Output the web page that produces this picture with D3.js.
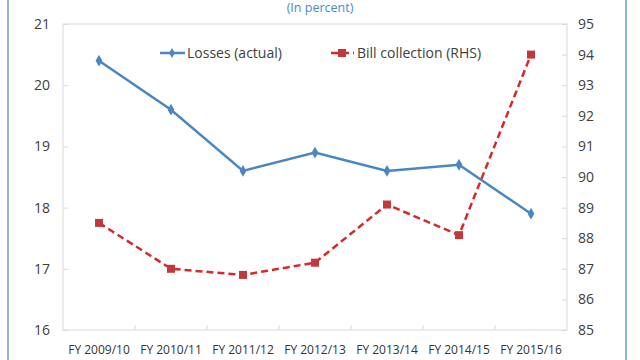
<!DOCTYPE html>
<html><head><meta charset="utf-8">
<script src="https://cdn.jsdelivr.net/npm/d3@7/dist/d3.min.js"></script>
<style>html,body{margin:0;padding:0;background:#fff;}svg{display:block;}</style>
</head><body><svg id="c" width="640" height="360"></svg>
<script>
const categories = ["FY 2009/10","FY 2010/11","FY 2011/12","FY 2012/13","FY 2013/14","FY 2014/15","FY 2015/16"];
const losses = [20.4, 19.6, 18.6, 18.9, 18.6, 18.7, 17.9];
const billCollection = [88.5, 87.0, 86.8, 87.2, 89.1, 88.1, 94.0];
const leftTicks = [16,17,18,19,20,21];
const rightTicks = [85,86,87,88,89,90,91,92,93,94,95];
const title = "(In percent)";
const seriesNames = ["Losses (actual)", "Bill collection (RHS)"];

const svg = d3.select("#c");
const m = {l:63, r:567, t:24, b:330};
const font = "'Open Sans', 'Noto Sans', sans-serif";

// outer blue side borders
svg.append("line").attr("x1",8).attr("x2",8).attr("y1",0).attr("y2",360).attr("stroke","#8fb4e3").attr("stroke-width",2);
svg.append("line").attr("x1",626).attr("x2",626).attr("y1",0).attr("y2",360).attr("stroke","#8fb4e3").attr("stroke-width",2);

svg.append("text").attr("x",320).attr("y",12).attr("text-anchor","middle")
  .attr("font-family",font).attr("font-size",12.5).attr("fill","#4a8cc8").text(title);

const x = d3.scaleBand().domain(categories).range([m.l, m.r]);
const yL = d3.scaleLinear().domain([16,21]).range([m.b, m.t]);
const yR = d3.scaleLinear().domain([85,95]).range([m.b, m.t]);

// plot frame
svg.append("rect").attr("x",m.l).attr("y",m.t).attr("width",m.r-m.l).attr("height",m.b-m.t)
  .attr("fill","none").attr("stroke","#d9d9d9").attr("stroke-width",1);

// left axis
const gL = svg.append("g").attr("transform",`translate(${m.l},0)`)
  .call(d3.axisLeft(yL).tickValues(leftTicks).tickFormat(d3.format("d")).tickSize(-5).tickPadding(21));
// right axis
const gR = svg.append("g").attr("transform",`translate(${m.r},0)`)
  .call(d3.axisRight(yR).tickValues(rightTicks).tickFormat(d3.format("d")).tickSize(-5).tickPadding(19));
// bottom axis: ticks at category boundaries
const bounds = categories.slice(1).map(c => x(c));
const gB = svg.append("g").attr("transform",`translate(0,${m.b})`)
  .call(d3.axisBottom(x).tickSize(0).tickPadding(15));
gB.selectAll(".bt").data(bounds).enter().append("line").attr("class","bt")
  .attr("x1",d=>d).attr("x2",d=>d).attr("y1",0).attr("y2",-5).attr("stroke","#d9d9d9");

[gL,gR,gB].forEach(g=>{
  g.select(".domain").remove();
  g.selectAll(".tick line").attr("stroke","#d9d9d9");
  g.selectAll("text").attr("font-family",font).attr("fill","#404040");
});
gL.selectAll("text").attr("font-size",14).attr("text-anchor","middle");
gR.selectAll("text").attr("font-size",14).attr("text-anchor","middle");
gB.selectAll("text").attr("font-size",12).attr("fill","#333");

const cx = d => x(d) + x.bandwidth()/2;
const blue = "#4a86c2", red = "#d42a2a", redFill = "#c0393b";

// losses line
svg.append("path").datum(losses)
  .attr("d", d3.line().x((d,i)=>cx(categories[i])).y(d=>yL(d)))
  .attr("fill","none").attr("stroke",blue).attr("stroke-width",2.5);
svg.selectAll(".dia").data(losses).enter().append("path")
  .attr("transform",(d,i)=>`translate(${cx(categories[i])},${yL(d)})`)
  .attr("d", d3.symbol().type(d3.symbolDiamond).size(40))
  .attr("fill",blue);

// bill collection line
svg.append("path").datum(billCollection)
  .attr("d", d3.line().x((d,i)=>cx(categories[i])).y(d=>yR(d)))
  .attr("fill","none").attr("stroke",red).attr("stroke-width",2.5).attr("stroke-dasharray","7,4");
svg.selectAll(".sq").data(billCollection).enter().append("rect")
  .attr("x",(d,i)=>cx(categories[i])-4).attr("y",d=>yR(d)-4)
  .attr("width",8).attr("height",8).attr("fill",redFill);

// legend
const lg = svg.append("g");
lg.append("line").attr("x1",160).attr("x2",185).attr("y1",53).attr("y2",53).attr("stroke",blue).attr("stroke-width",2.5);
lg.append("path").attr("transform","translate(172,53)").attr("d",d3.symbol().type(d3.symbolDiamond).size(30)).attr("fill",blue);
lg.append("text").attr("x",187).attr("y",58).attr("font-family",font).attr("font-size",14).attr("fill","#404040").text(seriesNames[0]);
lg.append("line").attr("x1",331).attr("x2",354).attr("y1",53).attr("y2",53).attr("stroke",red).attr("stroke-width",2.5).attr("stroke-dasharray","7,4");
lg.append("rect").attr("x",338).attr("y",49).attr("width",8).attr("height",8).attr("fill",redFill);
lg.append("text").attr("x",357).attr("y",58).attr("font-family",font).attr("font-size",14).attr("fill","#404040").text(seriesNames[1]);
</script></body></html>
